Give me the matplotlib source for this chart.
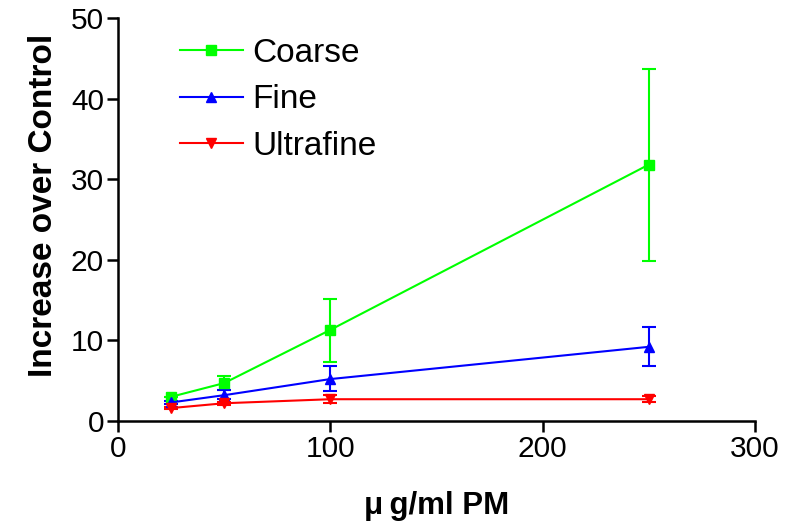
import matplotlib
matplotlib.use("Agg")
import matplotlib.pyplot as plt
from matplotlib.lines import Line2D

plt.rcParams['font.family'] = ['Liberation Sans', 'DejaVu Sans']

x = [25, 50, 100, 250]
coarse = [3.0, 4.7, 11.3, 31.8]
coarse_up = [0.0, 0.9, 3.8, 11.9]
coarse_lo = [0.0, 0.9, 4.0, 11.9]
fine = [2.3, 3.2, 5.2, 9.2]
fine_up = [0.2, 0.7, 1.6, 2.5]
fine_lo = [0.2, 0.5, 1.5, 2.4]
ultra = [1.6, 2.2, 2.7, 2.7]
ultra_err = [0.1, 0.2, 0.5, 0.4]
labels = ['Coarse', 'Fine', 'Ultrafine']
colors = ['#00ff00', '#0000ff', '#ff0000']
markers = ['s', '^', 'v']

fig = plt.figure(figsize=(7.92, 5.24), dpi=100)
ax = fig.add_axes([0.149, 0.1966, 0.804, 0.769])

kw = dict(markersize=7, lw=1.5, capsize=5, capthick=1.5, elinewidth=1.5)
ax.errorbar(x, coarse, yerr=[coarse_lo, coarse_up], color=colors[0], marker=markers[0], **kw)
ax.errorbar(x, fine, yerr=[fine_lo, fine_up], color=colors[1], marker=markers[1], **kw)
ax.errorbar(x, ultra, yerr=ultra_err, color=colors[2], marker=markers[2], **kw)

ax.set_xlim(0, 300)
ax.set_ylim(0, 50)
ax.set_xticks([0, 100, 200, 300])
ax.set_yticks([0, 10, 20, 30, 40, 50])
ax.spines['top'].set_visible(False)
ax.spines['right'].set_visible(False)
for s in ['left', 'bottom']:
    ax.spines[s].set_linewidth(1.8)
ax.tick_params(direction='out', width=1.8, length=8, labelsize=21.5, pad=2)

ax.set_xlabel('\u03bc\u2009g/ml PM', fontsize=22.5, fontweight='bold')
ax.xaxis.set_label_coords(0.5, -0.175)
ax.set_ylabel('Increase over Control', fontsize=24, fontweight='bold')
ax.yaxis.set_label_coords(-0.093, 0.535)

handles = [Line2D([], [], color=c, marker=m, markersize=7, lw=1.5) for c, m in zip(colors, markers)]
leg = ax.legend(handles, labels, loc='upper left', bbox_to_anchor=(0.097, 0.951), frameon=False,
                fontsize=24, handlelength=1.9, handletextpad=0.27, labelspacing=0.47,
                borderaxespad=0, borderpad=0)

fig.savefig('out.png', dpi=100)
